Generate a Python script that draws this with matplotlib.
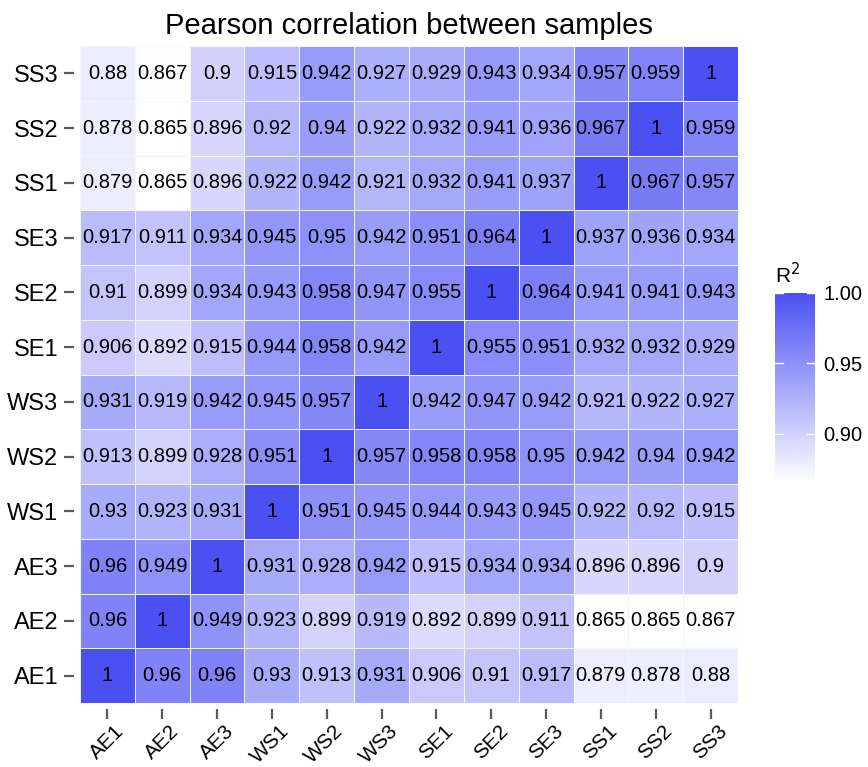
import numpy as np
import matplotlib
matplotlib.use("Agg")
import matplotlib.pyplot as plt
import matplotlib.transforms as mtransforms
from matplotlib.colors import LinearSegmentedColormap

plt.rcParams['font.family'] = ['Liberation Sans', 'DejaVu Sans']

samples = ['AE1', 'AE2', 'AE3', 'WS1', 'WS2', 'WS3', 'SE1', 'SE2', 'SE3', 'SS1', 'SS2', 'SS3']

# rows listed bottom (AE1) to top (SS3), columns AE1..SS3
r_ae1 = [1, 0.96, 0.96, 0.93, 0.913, 0.931, 0.906, 0.91, 0.917, 0.879, 0.878, 0.88]
r_ae2 = [0.96, 1, 0.949, 0.923, 0.899, 0.919, 0.892, 0.899, 0.911, 0.865, 0.865, 0.867]
r_ae3 = [0.96, 0.949, 1, 0.931, 0.928, 0.942, 0.915, 0.934, 0.934, 0.896, 0.896, 0.9]
r_ws1 = [0.93, 0.923, 0.931, 1, 0.951, 0.945, 0.944, 0.943, 0.945, 0.922, 0.92, 0.915]
r_ws2 = [0.913, 0.899, 0.928, 0.951, 1, 0.957, 0.958, 0.958, 0.95, 0.942, 0.94, 0.942]
r_ws3 = [0.931, 0.919, 0.942, 0.945, 0.957, 1, 0.942, 0.947, 0.942, 0.921, 0.922, 0.927]
r_se1 = [0.906, 0.892, 0.915, 0.944, 0.958, 0.942, 1, 0.955, 0.951, 0.932, 0.932, 0.929]
r_se2 = [0.91, 0.899, 0.934, 0.943, 0.958, 0.947, 0.955, 1, 0.964, 0.941, 0.941, 0.943]
r_se3 = [0.917, 0.911, 0.934, 0.945, 0.95, 0.942, 0.951, 0.964, 1, 0.937, 0.936, 0.934]
r_ss1 = [0.879, 0.865, 0.896, 0.922, 0.942, 0.921, 0.932, 0.941, 0.937, 1, 0.967, 0.957]
r_ss2 = [0.878, 0.865, 0.896, 0.92, 0.94, 0.922, 0.932, 0.941, 0.936, 0.967, 1, 0.959]
r_ss3 = [0.88, 0.867, 0.9, 0.915, 0.942, 0.927, 0.929, 0.943, 0.934, 0.957, 0.959, 1]

mat = np.array([r_ae1, r_ae2, r_ae3, r_ws1, r_ws2, r_ws3,
                r_se1, r_se2, r_se3, r_ss1, r_ss2, r_ss3])

cmap = LinearSegmentedColormap.from_list('wb', ['#ffffff', '#4b50f3'])
vmin, vmax = mat.min(), mat.max()

fig = plt.figure(figsize=(8.68, 7.67), dpi=100)
ax = fig.add_axes([80 / 868, 64 / 767, 658 / 868, 657 / 767])

n = len(samples)
mesh = ax.pcolormesh(np.arange(n + 1) - 0.5, np.arange(n + 1) - 0.5, mat,
                     cmap=cmap, vmin=vmin, vmax=vmax,
                     edgecolor='#f4f4fc', linewidth=0.5)
for i in range(n):
    for j in range(n):
        v = mat[i, j]
        txt = ('%.3f' % v).rstrip('0').rstrip('.')
        ax.text(j, i, txt, ha='center', va='center', fontsize=14.5, color='black')

# move ticks a little away from the tiles (must happen before labels are set)
ax.spines['left'].set_position(('outward', 4))
ax.spines['bottom'].set_position(('outward', 4))
for s in ax.spines.values():
    s.set_visible(False)

ax.set_xlim(-0.5, n - 0.5)
ax.set_ylim(-0.5, n - 0.5)
ax.set_xticks(range(n))
ax.set_yticks(range(n))
ax.set_xticklabels(samples, rotation=45, ha='right', rotation_mode='anchor', fontsize=15)
ax.set_yticklabels(samples, fontsize=17)
ax.tick_params(axis='both', length=7.5, width=1.6, color='#5a5a5a', pad=4)
ax.tick_params(axis='x', pad=2)
shift = mtransforms.ScaledTranslation(7 / 100, 0, fig.dpi_scale_trans)
for lab in ax.get_xticklabels():
    lab.set_transform(lab.get_transform() + shift)

ax.set_title('Pearson correlation between samples', fontsize=21, pad=9)

cax = fig.add_axes([775 / 868, 1 - 483 / 767, 40 / 868, 190 / 767])
cb = fig.colorbar(mesh, cax=cax, ticks=[0.90, 0.95, 1.00])
cb.outline.set_visible(False)
cb.ax.tick_params(length=0, labelsize=14.5, pad=6)
cb.ax.set_yticklabels(['0.90', '0.95', '1.00'])
for t in [0.90, 0.95, 1.00]:
    cax.plot([0, 0.2], [t, t], color='white', lw=1, transform=cax.get_yaxis_transform())
    cax.plot([0.8, 1], [t, t], color='white', lw=1, transform=cax.get_yaxis_transform())
cax.set_title('R$^2$', fontsize=15, loc='left', pad=7)

fig.savefig('out.png', dpi=100)
